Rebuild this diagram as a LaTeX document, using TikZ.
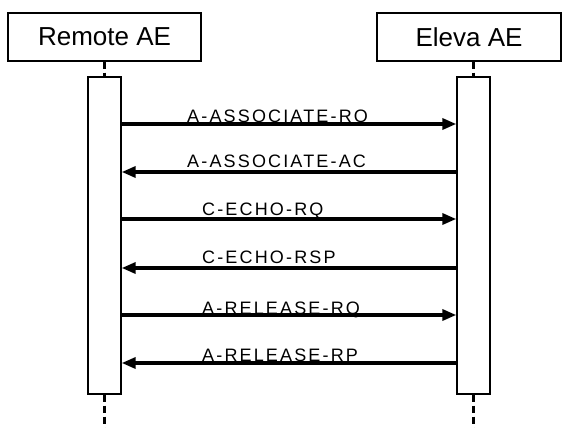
\documentclass[tikz,border=0pt]{standalone}
\usepackage{fontspec}
\setmainfont{Liberation Sans}
\newfontfamily\lblfont[LetterSpace=12]{Liberation Sans}
\usetikzlibrary{arrows.meta}
\begin{document}
\begin{tikzpicture}[x=1pt,y=-1pt,
  hdr/.style={draw,line width=1.4pt,minimum width=#1,minimum height=48pt,inner sep=0pt,font=\fontsize{26}{28}\selectfont},
  act/.style={draw,fill=white,line width=1.4pt,minimum width=33pt,minimum height=317pt,inner sep=0pt},
  life/.style={line width=3.5pt,dash pattern=on 7pt off 4pt},
  msg/.style={line width=3.3pt,line cap=round,-{Triangle[length=14pt,width=11pt]}},
  lbl/.style={anchor=base west,inner sep=0pt,font=\lblfont\fontsize{18}{20}\selectfont}]
\useasboundingbox (0,0) rectangle (562,428);
\node[hdr=193pt] (rh) at (104.5,37) {Remote AE};
\node[hdr=184pt] (eh) at (469,37) {Eleva AE};
\node[act] (ra) at (104.5,235.5) {};
\node[act] (ea) at (473.5,235.5) {};
\coordinate (rend) at (104.5,428);
\coordinate (eend) at (473.5,428);
\draw[life] (rh.south) -- (ra.north);
\draw[life] (eh.south -| ea.north) -- (ea.north);
\draw[life] (ra.south) -- (rend);
\draw[life] (ea.south) -- (eend);
\draw[msg] (ra.east |- 0,124) -- (ea.west |- 0,124);
\draw[msg] (ea.west |- 0,172) -- (ra.east |- 0,172);
\draw[msg] (ra.east |- 0,219) -- (ea.west |- 0,219);
\draw[msg] (ea.west |- 0,268) -- (ra.east |- 0,268);
\draw[msg] (ra.east |- 0,315) -- (ea.west |- 0,315);
\draw[msg] (ea.west |- 0,363) -- (ra.east |- 0,363);
\node[lbl] (l1) at (187,122) {A-ASSOCIATE-RQ};
\node[lbl] (l2) at (187,167) {A-ASSOCIATE-AC};
\node[lbl] (l3) at (202,215) {C-ECHO-RQ};
\node[lbl] (l4) at (202,263) {C-ECHO-RSP};
\node[lbl] (l5) at (202,314) {A-RELEASE-RQ};
\node[lbl] (l6) at (202,361) {A-RELEASE-RP};
\end{tikzpicture}
\end{document}
